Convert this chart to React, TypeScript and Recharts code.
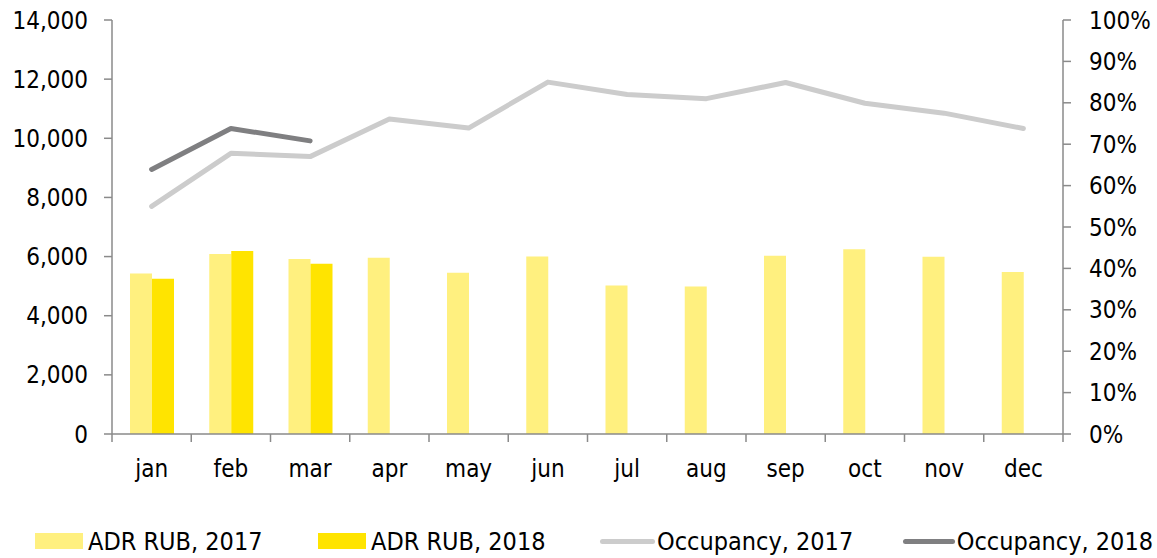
import { ComposedChart, Bar, Line, XAxis, YAxis, CartesianGrid, Legend } from "recharts";

const MONTHS = ["jan", "feb", "mar", "apr", "may", "jun", "jul", "aug", "sep", "oct", "nov", "dec"];
const ADR_2017 = [5430, 6090, 5920, 5960, 5450, 6000, 5020, 4990, 6030, 6250, 5990, 5480];
const ADR_2018 = [5250, 6190, 5760, null, null, null, null, null, null, null, null, null];
const OCC_2017 = [0.55, 0.678, 0.67, 0.761, 0.739, 0.85, 0.82, 0.81, 0.849, 0.799, 0.775, 0.738];
const OCC_2018 = [0.639, 0.738, 0.708, null, null, null, null, null, null, null, null, null];
const LEFT_TICKS = [0, 2000, 4000, 6000, 8000, 10000, 12000, 14000];
const RIGHT_TICKS = [0, 0.1, 0.2, 0.3, 0.4, 0.5, 0.6, 0.7, 0.8, 0.9, 1];
const GRID_VALUES = [2000, 4000, 6000, 8000, 10000, 12000];

const LEGEND_ITEMS = [
  { name: "ADR RUB, 2017", color: "#FFF07F", kind: "bar", slot: 283 },
  { name: "ADR RUB, 2018", color: "#FFE400", kind: "bar", slot: 282 },
  { name: "Occupancy, 2017", color: "#CCCCCC", kind: "line", slot: 303 },
  { name: "Occupancy, 2018", color: "#7F7F81", kind: "line", slot: 250 },
];

const FONT = "'DejaVu Sans Condensed', 'DejaVu Sans', sans-serif";
const AXIS = "#8A8A8A";
const TICK_SIZE = 8;
const TICK_MARGIN = 18;
const BAND = 951 / 12;

const data = MONTHS.map((m, i) => ({
  month: m,
  adr2017: ADR_2017[i],
  adr2018: ADR_2018[i],
  occ2017: OCC_2017[i],
  occ2018: OCC_2018[i],
}));

function MonthTick(props: any) {
  const { x, y, payload, index } = props;
  const axisY = y - TICK_SIZE - TICK_MARGIN;
  const left = x - BAND / 2;
  return (
    <g>
      <line x1={left} x2={left} y1={axisY} y2={axisY + TICK_SIZE} stroke={AXIS} strokeWidth={1.5} />
      {index === MONTHS.length - 1 && (
        <line x1={x + BAND / 2} x2={x + BAND / 2} y1={axisY} y2={axisY + TICK_SIZE} stroke={AXIS} strokeWidth={1.5} />
      )}
      <text x={x} y={y} dy="0.71em" textAnchor="middle" fill="#000" fontSize={24} fontFamily={FONT}>
        {payload.value}
      </text>
    </g>
  );
}

function ChartLegend() {
  return (
    <div style={{ display: "flex", alignItems: "center", height: 40, paddingLeft: 35, paddingTop: 6, boxSizing: "border-box", fontFamily: FONT, fontSize: 25, color: "#000" }}>
      {LEGEND_ITEMS.map((it) => (
        <div key={it.name} style={{ display: "flex", alignItems: "center", width: it.slot, flexShrink: 0 }}>
          {it.kind === "bar" ? (
            <div style={{ width: 48, height: 16, background: it.color, marginRight: 5 }} />
          ) : (
            <div style={{ width: 55, height: 5, borderRadius: 3, background: it.color, marginRight: 2 }} />
          )}
          <span style={{ whiteSpace: "nowrap" }}>{it.name}</span>
        </div>
      ))}
    </div>
  );
}

export default function App() {
  return (
    <div style={{ position: "absolute", left: 0, top: 0, background: "#fff" }}>
      <ComposedChart
        width={1157}
        height={558}
        data={data}
        margin={{ top: 20, right: 0, bottom: 0, left: 0 }}
        barGap={0}
        style={{ fontFamily: FONT }}
      >
        <CartesianGrid vertical={false} horizontalValues={GRID_VALUES} stroke={AXIS} strokeWidth={1.5} />
        <XAxis
          dataKey="month"
          height={84}
          axisLine={{ stroke: AXIS, strokeWidth: 1.5 }}
          tickLine={false}
          tickSize={TICK_SIZE}
          tickMargin={TICK_MARGIN}
          tick={<MonthTick />}
          interval={0}
        />
        <YAxis
          yAxisId="left"
          width={112}
          domain={[0, 14000]}
          ticks={LEFT_TICKS}
          tickFormatter={(v) => Number(v).toLocaleString("en-US")}
          axisLine={{ stroke: AXIS, strokeWidth: 1.5 }}
          tickLine={{ stroke: AXIS, strokeWidth: 1.5 }}
          tickSize={8}
          tickMargin={16}
          tick={{ fill: "#000", fontSize: 24, fontFamily: FONT }}
        />
        <YAxis
          yAxisId="right"
          orientation="right"
          width={94}
          domain={[0, 1]}
          ticks={RIGHT_TICKS}
          tickFormatter={(v) => `${Math.round(Number(v) * 100)}%`}
          axisLine={{ stroke: AXIS, strokeWidth: 1.5 }}
          tickLine={{ stroke: AXIS, strokeWidth: 1.5 }}
          tickSize={8}
          tickMargin={18}
          tick={{ fill: "#000", fontSize: 24, fontFamily: FONT }}
        />
        <Bar yAxisId="left" dataKey="adr2017" name="ADR RUB, 2017" fill="#FFF07F" barSize={22} isAnimationActive={false} />
        <Bar yAxisId="left" dataKey="adr2018" name="ADR RUB, 2018" fill="#FFE400" barSize={22} isAnimationActive={false} />
        <Line yAxisId="right" dataKey="occ2017" name="Occupancy, 2017" stroke="#CCCCCC" strokeWidth={5} strokeLinecap="round" strokeLinejoin="round" dot={false} activeDot={false} isAnimationActive={false} />
        <Line yAxisId="right" dataKey="occ2018" name="Occupancy, 2018" stroke="#7F7F81" strokeWidth={5} strokeLinecap="round" strokeLinejoin="round" dot={false} activeDot={false} isAnimationActive={false} />
        <Legend verticalAlign="bottom" content={<ChartLegend />} />
      </ComposedChart>
    </div>
  );
}
